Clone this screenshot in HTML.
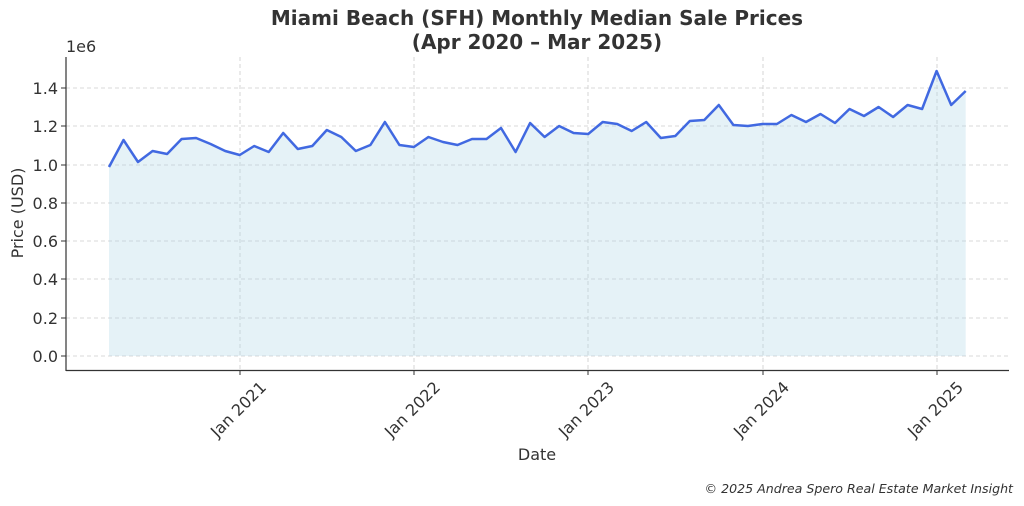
<!DOCTYPE html>
<html><head><style>body{margin:0;background:#fff}svg{display:block}text{font-family:"DejaVu Sans","Liberation Sans",sans-serif;fill:#333}</style></head><body>
<svg width="1024" height="506" viewBox="0 0 1024 506">
<text x="537" y="25" text-anchor="middle" font-size="20" font-weight="bold">Miami Beach (SFH) Monthly Median Sale Prices</text>
<text x="537" y="49" text-anchor="middle" font-size="20" font-weight="bold">(Apr 2020 – Mar 2025)</text>
<g stroke="#ccc" stroke-dasharray="4,3" stroke-width="0.8">
<line x1="66" x2="1008" y1="356" y2="356"/><line x1="66" x2="1008" y1="318" y2="318"/><line x1="66" x2="1008" y1="279" y2="279"/><line x1="66" x2="1008" y1="241" y2="241"/><line x1="66" x2="1008" y1="203" y2="203"/><line x1="66" x2="1008" y1="165" y2="165"/><line x1="66" x2="1008" y1="126" y2="126"/><line x1="66" x2="1008" y1="88" y2="88"/>
<line x1="240" x2="240" y1="57" y2="370"/><line x1="414" x2="414" y1="57" y2="370"/><line x1="588" x2="588" y1="57" y2="370"/><line x1="763" x2="763" y1="57" y2="370"/><line x1="937" x2="937" y1="57" y2="370"/>
</g>
<polygon fill="#add8e6" fill-opacity="0.32" points="109,356 109,167 123.5,140 138,162 152.6,151 167.1,154 181.6,139 196.1,138 210.6,144 225.2,151 239.7,155 254.2,146 268.7,152 283.2,133 297.8,149 312.3,146 326.8,130 341.3,137 355.8,151 370.4,145 384.9,122 399.4,145 413.9,147 428.4,137 443,142 457.5,145 472,139 486.5,139 501,128 515.6,152 530.1,123 544.6,137 559.1,126 573.6,133 588.2,134 602.7,122 617.2,124 631.7,131 646.2,122 660.8,138 675.3,136 689.8,121 704.3,120 718.8,105 733.4,125 747.9,126 762.4,124 776.9,124 791.4,115 806,122 820.5,114 835,123 849.5,109 864,116 878.6,107 893.1,117 907.6,105 922.1,109 936.6,71 951.2,105 965.7,91 965.7,356"/>
<polyline fill="none" stroke="#4169e1" stroke-width="2.5" stroke-linejoin="round" points="109,167 123.5,140 138,162 152.6,151 167.1,154 181.6,139 196.1,138 210.6,144 225.2,151 239.7,155 254.2,146 268.7,152 283.2,133 297.8,149 312.3,146 326.8,130 341.3,137 355.8,151 370.4,145 384.9,122 399.4,145 413.9,147 428.4,137 443,142 457.5,145 472,139 486.5,139 501,128 515.6,152 530.1,123 544.6,137 559.1,126 573.6,133 588.2,134 602.7,122 617.2,124 631.7,131 646.2,122 660.8,138 675.3,136 689.8,121 704.3,120 718.8,105 733.4,125 747.9,126 762.4,124 776.9,124 791.4,115 806,122 820.5,114 835,123 849.5,109 864,116 878.6,107 893.1,117 907.6,105 922.1,109 936.6,71 951.2,105 965.7,91"/>
<line x1="66" y1="57" x2="66" y2="371" stroke="#333" stroke-width="1.2"/>
<line x1="66" y1="370.5" x2="1009" y2="370.5" stroke="#333" stroke-width="1.2"/>
<g stroke="#333"><line x1="61" x2="66" y1="356" y2="356"/><line x1="61" x2="66" y1="318" y2="318"/><line x1="61" x2="66" y1="279" y2="279"/><line x1="61" x2="66" y1="241" y2="241"/><line x1="61" x2="66" y1="203" y2="203"/><line x1="61" x2="66" y1="165" y2="165"/><line x1="61" x2="66" y1="126" y2="126"/><line x1="61" x2="66" y1="88" y2="88"/>
<line x1="240" x2="240" y1="370" y2="375"/><line x1="414" x2="414" y1="370" y2="375"/><line x1="588" x2="588" y1="370" y2="375"/><line x1="763" x2="763" y1="370" y2="375"/><line x1="937" x2="937" y1="370" y2="375"/></g>
<g font-size="16" text-anchor="end"><text x="58" y="362">0.0</text><text x="58" y="324">0.2</text><text x="58" y="285">0.4</text><text x="58" y="247">0.6</text><text x="58" y="209">0.8</text><text x="58" y="171">1.0</text><text x="58" y="132">1.2</text><text x="58" y="94">1.4</text></g>
<text x="66" y="52" font-size="16">1e6</text>
<g font-size="16" text-anchor="middle">
<text transform="translate(238,409) rotate(-45)" dy="6">Jan 2021</text>
<text transform="translate(412,409) rotate(-45)" dy="6">Jan 2022</text>
<text transform="translate(586,409) rotate(-45)" dy="6">Jan 2023</text>
<text transform="translate(761,409) rotate(-45)" dy="6">Jan 2024</text>
<text transform="translate(935,409) rotate(-45)" dy="6">Jan 2025</text></g>
<text x="537" y="460" text-anchor="middle" font-size="16">Date</text>
<text transform="translate(23,213) rotate(-90)" text-anchor="middle" font-size="16">Price (USD)</text>
<text x="1013" y="493" text-anchor="end" font-size="12.6" font-style="italic">© 2025 Andrea Spero Real Estate Market Insight</text>
</svg></body></html>
